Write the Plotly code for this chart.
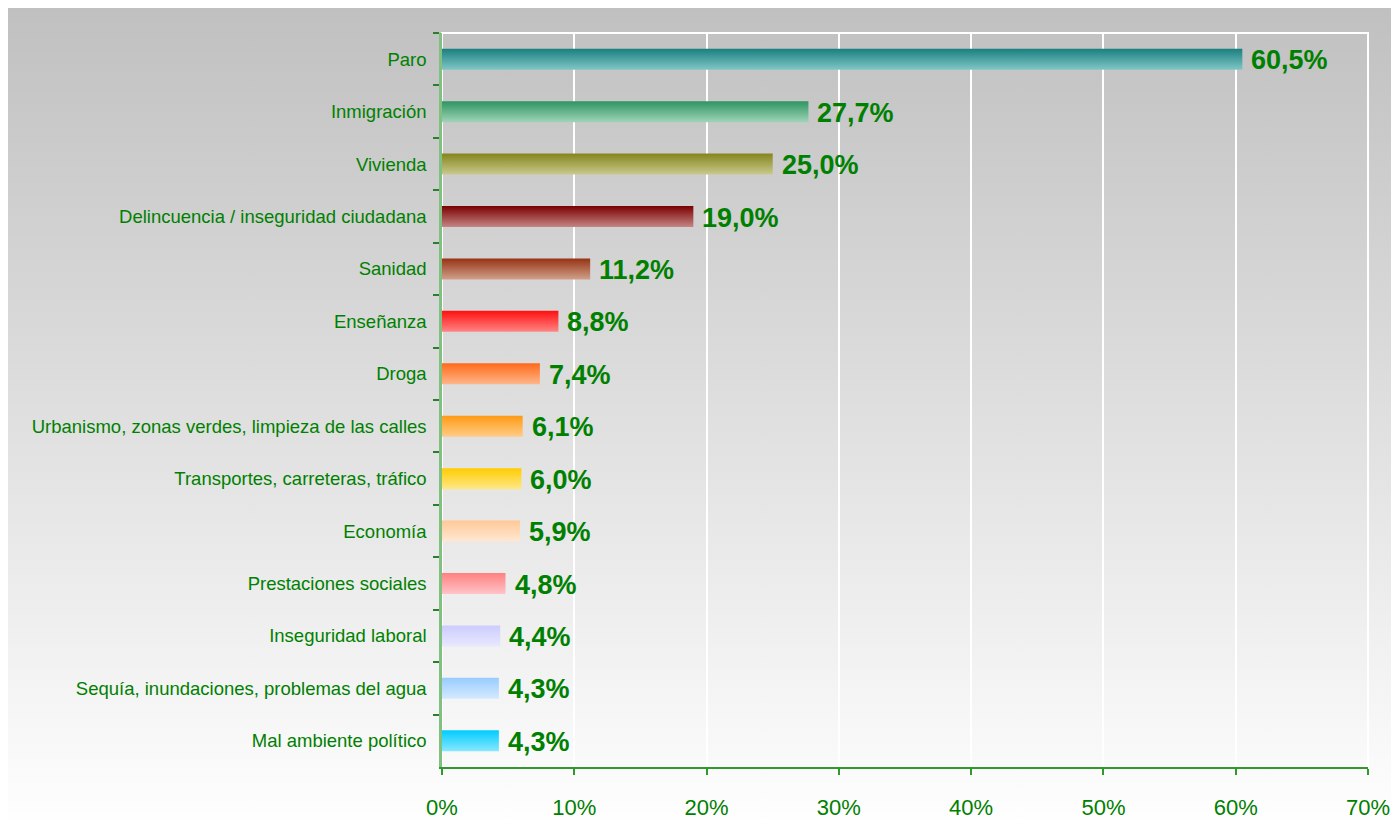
import base64
import plotly.graph_objects as go

# ─── Data ────────────────────────────────────────────────────────────────────
CATEGORIES = [
    "Paro",
    "Inmigración",
    "Vivienda",
    "Delincuencia / inseguridad ciudadana",
    "Sanidad",
    "Enseñanza",
    "Droga",
    "Urbanismo, zonas verdes, limpieza de las calles",
    "Transportes, carreteras, tráfico",
    "Economía",
    "Prestaciones sociales",
    "Inseguridad laboral",
    "Sequía, inundaciones, problemas del agua",
    "Mal ambiente político",
]
VALUES = [60.5, 27.7, 25.0, 19.0, 11.2, 8.8, 7.4, 6.1, 6.0, 5.9, 4.8, 4.4, 4.3, 4.3]
X_TICKS = [0, 10, 20, 30, 40, 50, 60, 70]

# (top colour, bottom colour) of each bar's vertical gradient
BAR_COLORS = [
    ("#1a7f7f", "#80c6c6"),
    ("#2e9460", "#9fd4b8"),
    ("#85851c", "#c9c98f"),
    ("#7a0000", "#c58585"),
    ("#963214", "#d0a08a"),
    ("#ff1010", "#ff8585"),
    ("#ff6a1a", "#ffb68a"),
    ("#ff9a14", "#ffcc88"),
    ("#ffcc00", "#ffe888"),
    ("#ffc896", "#ffe8d4"),
    ("#ff8080", "#ffc4c8"),
    ("#ccccff", "#e8e8ff"),
    ("#99ccff", "#d4eaff"),
    ("#00ccff", "#88e8ff"),
]

GREEN = "#008000"
FONT = "Liberation Sans, Arial, sans-serif"

# ─── Geometry (px). The page body adds an 8px margin, so the figure is 8px
# smaller than the window and everything is placed relative to (8, 8).
W, H = 1391, 811
M = dict(l=434, r=31, t=25, b=52)
PW = W - M["l"] - M["r"]
PH = H - M["t"] - M["b"]

n = len(CATEGORIES)
pos = [n - 1 - i for i in range(n)]
half = 0.2

fig = go.Figure()
for i, (cat, v) in enumerate(zip(CATEGORIES, VALUES)):
    y = pos[i]
    top, bottom = BAR_COLORS[i]
    fig.add_trace(go.Scatter(
        x=[0, v, v, 0, 0],
        y=[y - half, y - half, y + half, y + half, y - half],
        mode="lines",
        fill="toself",
        line=dict(width=0),
        fillgradient=dict(type="vertical", colorscale=[[0, bottom], [1, top]]),
        hoverinfo="skip",
        showlegend=False,
    ))
    fig.add_annotation(
        x=v, y=y, xref="x", yref="y",
        text=f"{v:.1f}".replace(".", ",") + "%",
        showarrow=False, xanchor="left", yanchor="middle", xshift=7, yshift=-1,
        font=dict(family=FONT, size=27, color=GREEN, weight="bold"),
    )

# gradient background as an svg image covering the page
svg = (
    '<svg xmlns="http://www.w3.org/2000/svg" width="100" height="100" preserveAspectRatio="none">'
    '<defs><linearGradient id="g" x1="0" y1="0" x2="0" y2="1">'
    '<stop offset="0" stop-color="#c0c0c0"/><stop offset="1" stop-color="#fefefe"/>'
    '</linearGradient></defs><rect width="100" height="100" fill="url(#g)"/></svg>'
)
bg_uri = "data:image/svg+xml;base64," + base64.b64encode(svg.encode()).decode()
x0_px, y0_px = -3, -1
fig.add_layout_image(
    source=bg_uri, xref="paper", yref="paper",
    x=(x0_px - M["l"]) / PW, y=(H - M["b"] - y0_px) / PH,
    sizex=(W - x0_px) / PW, sizey=(H - y0_px) / PH,
    xanchor="left", yanchor="top", sizing="stretch", layer="below",
)

# white frame round the plot area
fig.add_shape(type="rect", xref="paper", yref="paper", x0=0, x1=1, y0=0, y1=1,
              line=dict(color="white", width=2), layer="below")

fig.update_layout(
    width=W, height=H,
    margin=M,
    paper_bgcolor="white",
    plot_bgcolor="rgba(0,0,0,0)",
    font=dict(family=FONT, color=GREEN),
    xaxis=dict(
        range=[0, 70], tickvals=X_TICKS, ticktext=[f"{t}%" for t in X_TICKS],
        showgrid=True, gridcolor="white", gridwidth=1.5,
        showline=True, linecolor="#2e9a2e", linewidth=1.5,
        ticks="outside", ticklen=6, tickcolor="#2e9a2e", tickwidth=1.5,
        tickfont=dict(size=22, color=GREEN), ticklabelstandoff=14,
        zeroline=False, fixedrange=True, automargin=False,
    ),
    yaxis=dict(
        range=[-0.5, n - 0.5], tickvals=pos, ticktext=CATEGORIES,
        showgrid=False, zeroline=False,
        showline=True, linecolor="#80c080", linewidth=2.5,
        ticks="", ticklabelstandoff=9,
        tickfont=dict(size=18.5, color=GREEN),
        minor=dict(tickvals=[p + 0.5 for p in pos], ticks="outside", ticklen=6,
                   tickcolor="#2e7d2e", tickwidth=1.5, showgrid=False),
        fixedrange=True, automargin=False,
    ),
)

fig.write_html("out.html")
